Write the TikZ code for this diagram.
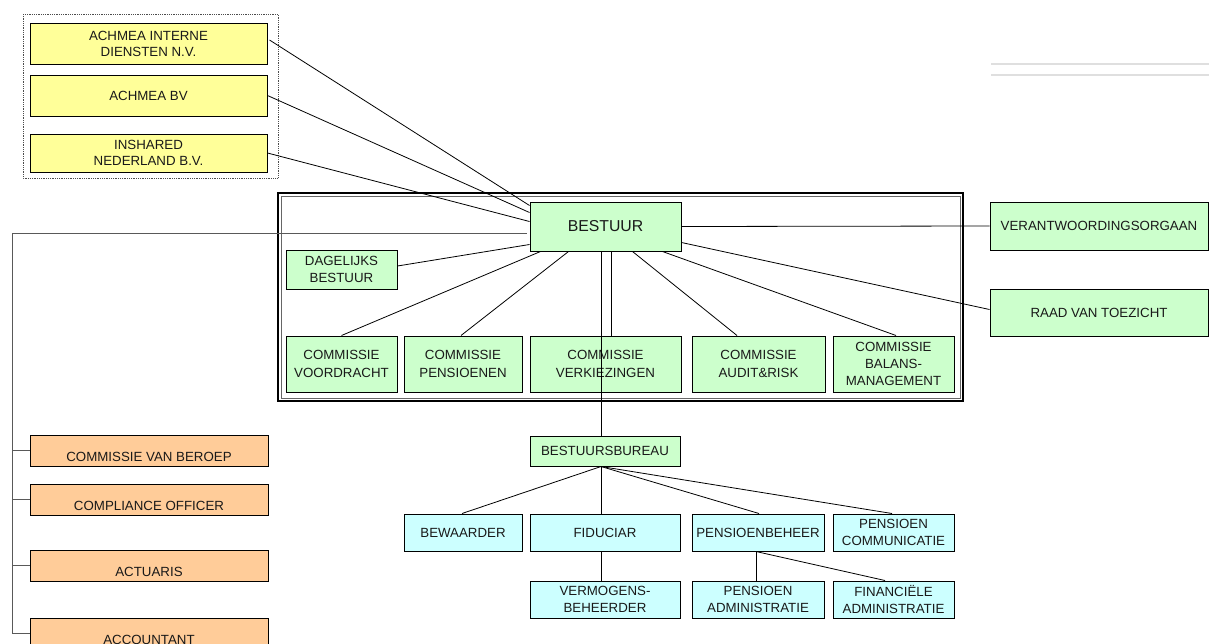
\documentclass[tikz,border=0pt]{standalone}
\usepackage{fontspec}
\setmainfont{Liberation Sans}
\usetikzlibrary{calc}
\definecolor{ycol}{HTML}{FFFF99}
\definecolor{gcol}{HTML}{CCFFCC}
\definecolor{ccol}{HTML}{CCFFFF}
\definecolor{ocol}{HTML}{FFCC99}
\begin{document}
\begin{tikzpicture}[x=1pt,y=-1pt,
  box/.style={draw=black,line width=1pt,inner sep=1pt,align=center,text=black!90,
    font=\fontsize{13.3}{17.5}\selectfont},
  ybox/.style={box,fill=ycol,minimum width=237pt,font=\fontsize{13.3}{16}\selectfont},
  gbox/.style={box,fill=gcol},
  cbox/.style={box,fill=ccol},
  obox/.style={box,fill=ocol,minimum width=238pt,minimum height=31pt},
  conn/.style={draw=black,line width=0.8pt},
  gconn/.style={draw=black!65,line width=0.9pt}]
\useasboundingbox (0,0) rectangle (1209,643);
\clip (0,0) rectangle (1209,643);
% top right faint lines
\draw[gray!25,line width=1.5pt] (991,64) -- (1209,64);
\draw[gray!25,line width=1.5pt] (991,75) -- (1209,75);
% dotted group
\draw[black!70,line width=0.8pt,densely dotted] (23,14) rectangle (278,178);
% double frame
\draw[black,line width=1.5pt] (278,193) rectangle (963,401);
\draw[black!60,line width=0.6pt] (281,196) rectangle (960,398);
% yellow
\node[ybox,minimum height=41pt] (y1) at (148.5,43.5) {ACHMEA INTERNE\\DIENSTEN N.V.};
\node[ybox,minimum height=41pt] (y2) at (148.5,95.5) {ACHMEA BV};
\node[ybox,minimum height=38pt] (y3) at (148.5,153) {INSHARED\\NEDERLAND B.V.};
% green
\node[gbox,minimum width=151pt,minimum height=49pt,font=\fontsize{15.8}{18}\selectfont] (bestuur) at (605.5,226.5) {BESTUUR};
\node[gbox,minimum width=111pt,minimum height=39pt] (dag) at (341.5,269.5) {DAGELIJKS\\BESTUUR};
\node[gbox,minimum width=111pt,minimum height=56pt] (c1) at (341.5,364) {COMMISSIE\\VOORDRACHT};
\node[gbox,minimum width=118pt,minimum height=56pt] (c2) at (463,364) {COMMISSIE\\PENSIOENEN};
\node[gbox,minimum width=151pt,minimum height=56pt] (c3) at (605.5,364) {COMMISSIE\\VERKIEZINGEN};
\node[gbox,minimum width=133pt,minimum height=56pt] (c4) at (758.5,364) {COMMISSIE\\AUDIT\&RISK};
\node[gbox,minimum width=121pt,minimum height=56pt,font=\fontsize{13.3}{17}\selectfont] (c5) at (893.5,364) {COMMISSIE\\BALANS-\\MANAGEMENT};
\node[gbox,minimum width=218pt,minimum height=48pt] (verant) at (1099,226) {VERANTWOORDINGSORGAAN};
\node[gbox,minimum width=218pt,minimum height=47pt] (raad) at (1099,312.5) {RAAD VAN TOEZICHT};
\node[gbox,minimum width=150pt,minimum height=30pt] (bb) at (605,451) {BESTUURSBUREAU};
% cyan
\node[cbox,minimum width=118pt,minimum height=37pt] (bew) at (463,532.5) {BEWAARDER};
\node[cbox,minimum width=150pt,minimum height=37pt] (fid) at (605,532.5) {FIDUCIAR};
\node[cbox,minimum width=132pt,minimum height=37pt] (pb) at (758,532.5) {PENSIOENBEHEER};
\node[cbox,minimum width=121pt,minimum height=37pt] (pc) at (893.5,532.5) {PENSIOEN\\COMMUNICATIE};
\node[cbox,minimum width=150pt,minimum height=37pt] (verm) at (605,599.5) {VERMOGENS-\\BEHEERDER};
\node[cbox,minimum width=132pt,minimum height=37pt] (pa) at (758,599.5) {PENSIOEN\\ADMINISTRATIE};
\node[cbox,minimum width=121pt,minimum height=37pt] (fa) at (893.5,599.5) {FINANCIËLE\\ADMINISTRATIE};
% orange
\node[obox,label={[yshift=-6.5pt,font=\fontsize{13.3}{16}\selectfont,text=black!90]center:COMMISSIE VAN BEROEP}] (o1) at (149,450.5) {};
\node[obox,label={[yshift=-6.5pt,font=\fontsize{13.3}{16}\selectfont,text=black!90]center:COMPLIANCE OFFICER}] (o2) at (149,499.5) {};
\node[obox,label={[yshift=-6.5pt,font=\fontsize{13.3}{16}\selectfont,text=black!90]center:ACTUARIS}] (o3) at (149,565.5) {};
\node[obox,label={[yshift=-6.5pt,font=\fontsize{13.3}{16}\selectfont,text=black!90]center:ACCOUNTANT}] (o4) at (149,633.5) {};
% connectors to bestuur
\draw[conn] ($(y1.east)+(2,-3.5)$) -- ($(bestuur.north west)+(0,4)$);
\draw[conn] (y2.east) -- ($(bestuur.north west)+(0,11)$);
\draw[conn] (y3.east) -- ($(bestuur.north west)+(0,20)$);
\coordinate (lft) at (12,233);
\draw[gconn] ($(bestuur.west)+(-3,6.5)$) -- (lft) -- (lft |- o4.west) -- (o4.west);
\draw[gconn] (lft |- o1.west) -- (o1.west);
\draw[gconn] (lft |- o2.west) -- (o2.west);
\draw[gconn] (lft |- o3.west) -- (o3.west);
\draw[conn] ($(dag.east)+(0,-3.5)$) -- ($(bestuur.south west)+(0,-7)$);
\draw[conn] (c1.north) -- ($(bestuur.south west)+(11,0)$);
\draw[conn] ($(c2.north)+(-2,0)$) -- ($(bestuur.south west)+(39,0)$);
\coordinate (bbn) at ($(bb.north)+(-4,0)$);
\draw[conn] (bbn) -- (bbn |- bestuur.south);
\coordinate (c3n) at ($(c3.north)+(5.5,0)$);
\draw[conn] (c3n) -- (c3n |- bestuur.south);
\draw[conn] ($(c4.north)+(-21.5,0)$) -- ($(bestuur.south east)+(-49,0)$);
\draw[conn] ($(c5.north)+(2.5,0)$) -- ($(bestuur.south east)+(-19,0)$);
\draw[conn] ($(bestuur.south east)+(0,-9)$) -- ($(raad.west)+(0,-3)$);
\draw[conn] (bestuur.east) -- (verant.west);
% lower connectors
\coordinate (bbs) at ($(bb.south)+(-4,0)$);
\draw[conn] (bbs) -- ($(bew.north)+(-1,0)$);
\draw[conn] (bbs) -- ($(fid.north)+(-4,0)$);
\draw[conn] (bbs) -- ($(pb.north)+(1,0)$);
\draw[conn] (bbs) -- ($(pc.north)+(-1.5,0)$);
\draw[conn] ($(fid.south)+(-4,0)$) -- ($(verm.north)+(-4,0)$);
\coordinate (pbs) at ($(pb.south)+(-2,0)$);
\draw[conn] (pbs) -- ($(pa.north)+(-2,0)$);
\draw[conn] (pbs) -- ($(fa.north)+(-8.5,0)$);
\end{tikzpicture}
\end{document}
